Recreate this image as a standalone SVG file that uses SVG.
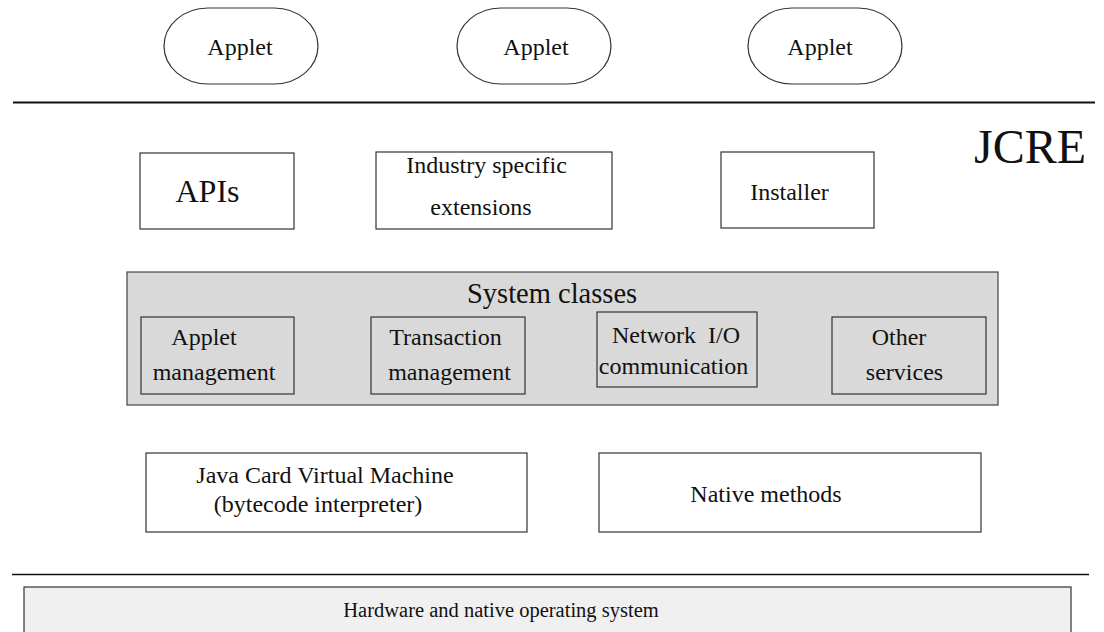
<svg xmlns="http://www.w3.org/2000/svg" width="1104" height="632" viewBox="0 0 1104 632">
<style>
text{font-family:"Liberation Serif","Times New Roman",serif;fill:#111;text-anchor:middle}
.t24{font-size:24px}
.box{fill:#fff;stroke:#333;stroke-width:1.2}
.inner{fill:none;stroke:#333;stroke-width:1.2}
.sep{stroke:#111;stroke-width:2}
</style>
<rect width="1104" height="632" fill="#fff"/>
<g id="applet1"><rect class="box" x="164" y="8" width="154" height="76" rx="44" ry="38"/><text class="t24" x="240" y="55">Applet</text></g>
<g id="applet2"><rect class="box" x="457" y="8" width="154" height="76" rx="44" ry="38"/><text class="t24" x="536" y="55">Applet</text></g>
<g id="applet3"><rect class="box" x="748" y="8" width="154" height="76" rx="44" ry="38"/><text class="t24" x="820" y="55">Applet</text></g>
<g id="separators">
<line class="sep" x1="13" y1="102.5" x2="1095" y2="102.5"/>
<line x1="12" y1="574.5" x2="1089" y2="574.5" stroke="#111" stroke-width="1.5"/>
</g>
<g id="jcre"><text x="974" y="163" style="font-size:48px;text-anchor:start">JCRE</text></g>
<g id="apis"><rect class="box" x="140" y="153" width="154" height="76"/><text x="207.5" y="202" style="font-size:32px">APIs</text></g>
<g id="industry"><rect class="box" x="376" y="152" width="236" height="77"/><text class="t24" x="486.5" y="173">Industry specific</text><text class="t24" x="481" y="215">extensions</text></g>
<g id="installer"><rect class="box" x="721" y="152" width="153" height="76"/><text class="t24" x="789.5" y="200">Installer</text></g>
<g id="system-classes"><rect x="127" y="272" width="871" height="133" fill="#d9d9d9" stroke="#444" stroke-width="1.2"/><text x="467" y="303" style="font-size:28.5px;text-anchor:start">System classes</text>
<g id="applet-mgmt"><rect class="inner" x="141" y="317" width="153" height="77"/><text class="t24" x="204" y="345">Applet</text><text class="t24" x="214" y="380">management</text></g>
<g id="transaction-mgmt"><rect class="inner" x="371" y="317" width="154" height="77"/><text class="t24" x="445.5" y="345">Transaction</text><text class="t24" x="449.5" y="380">management</text></g>
<g id="network-io"><rect class="inner" x="597" y="312" width="160" height="75"/><text class="t24" x="676" y="343" xml:space="preserve">Network  I/O</text><text class="t24" x="673.5" y="374">communication</text></g>
<g id="other-services"><rect class="inner" x="832" y="317" width="154" height="77"/><text class="t24" x="899" y="345">Other</text><text class="t24" x="904.5" y="380">services</text></g>
</g>
<g id="jcvm"><rect class="box" x="146" y="453" width="381" height="79"/><text class="t24" x="325" y="483">Java Card Virtual Machine</text><text class="t24" x="318" y="512">(bytecode interpreter)</text></g>
<g id="native-methods"><rect class="box" x="599" y="453" width="382" height="79"/><text class="t24" x="766" y="502">Native methods</text></g>
<g id="hardware"><rect x="24" y="587" width="1047" height="60" fill="#f0f0f0" stroke="#333" stroke-width="1.2"/><text x="501" y="617" style="font-size:20.5px">Hardware and native operating system</text></g>
<g id="connectors"/>
</svg>
